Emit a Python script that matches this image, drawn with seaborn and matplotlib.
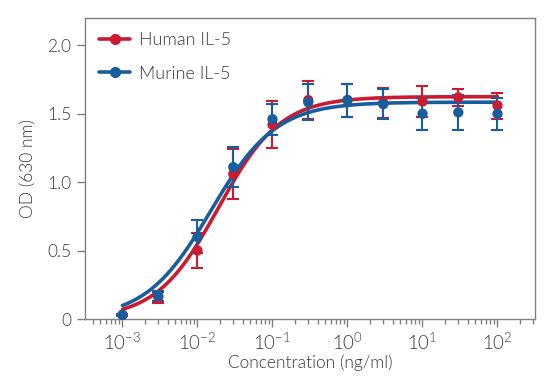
import numpy as np
import pandas as pd
import matplotlib
matplotlib.use('Agg')
import matplotlib.pyplot as plt
import matplotlib.ticker as ticker
from matplotlib.lines import Line2D
import seaborn as sns

# colours
RED = '#CC1A30'
BLUE = '#175E9F'
GREY = '#808080'
TEXT = '#3a3a3a'

# measured points (ng/ml vs OD 630 nm)
conc = [0.001, 0.003, 0.01, 0.03, 0.1, 0.3, 1, 3, 10, 30, 100]
human_od = [0.03, 0.16, 0.50, 1.06, 1.42, 1.60, 1.60, 1.58, 1.59, 1.62, 1.56]
human_err = [0.01, 0.04, 0.13, 0.18, 0.17, 0.14, 0.12, 0.11, 0.11, 0.06, 0.095]
murine_od = [0.03, 0.17, 0.60, 1.11, 1.46, 1.585, 1.60, 1.57, 1.50, 1.51, 1.50]
murine_err = [0.01, 0.035, 0.12, 0.145, 0.115, 0.13, 0.12, 0.11, 0.115, 0.13, 0.115]

# 4PL fit parameters: bottom, top, EC50, hill slope
human_fit = (0.0, 1.625, 0.019, 1.05)
murine_fit = (0.0, 1.585, 0.0151, 1.0)

y_ticks = [0, 0.5, 1.0, 1.5, 2.0]


def four_pl(x, params):
    bottom, top, ec50, hill = params
    return bottom + (top - bottom) / (1 + (ec50 / x) ** hill)


sns.set_style('ticks')
plt.rcParams['font.family'] = ['Lato', 'DejaVu Sans']
plt.rcParams['font.weight'] = 300
plt.rcParams['axes.labelweight'] = 300
plt.rcParams['mathtext.fontset'] = 'custom'
plt.rcParams['mathtext.rm'] = 'Lato:weight=300'
plt.rcParams['mathtext.default'] = 'regular'

fig = plt.figure(figsize=(5.5, 3.92), dpi=100)
ax = fig.add_axes([85 / 550, 1 - 319 / 392, 450 / 550, 301 / 392])

x_fit = np.logspace(-3, 2, 400)
fits = pd.DataFrame({
    'conc': np.concatenate([x_fit, x_fit]),
    'od': np.concatenate([four_pl(x_fit, human_fit), four_pl(x_fit, murine_fit)]),
    'series': ['Human IL-5'] * len(x_fit) + ['Murine IL-5'] * len(x_fit),
})

sns.lineplot(data=fits, x='conc', y='od', hue='series',
             palette={'Human IL-5': RED, 'Murine IL-5': BLUE},
             linewidth=2.6, legend=False, ax=ax, zorder=2)

for od, err, col in [(human_od, human_err, RED), (murine_od, murine_err, BLUE)]:
    ax.errorbar(conc, od, yerr=err, fmt='none', ecolor=col, elinewidth=1.5,
                capsize=4, capthick=1.5, zorder=3)
    sns.scatterplot(x=conc, y=od, color=col, s=55, edgecolor='none',
                    ax=ax, zorder=4, clip_on=False)

ax.set_xscale('log')
ax.set_xlim(10 ** -3.5, 10 ** 2.5)
ax.set_ylim(0, 2.2)
ax.xaxis.set_major_locator(ticker.LogLocator(base=10, numticks=12))
ax.xaxis.set_minor_locator(ticker.LogLocator(base=10, subs=np.arange(2, 10), numticks=12))
ax.xaxis.set_major_formatter(ticker.FuncFormatter(
    lambda v, p: '10$^{%d}$' % int(round(np.log10(v)))))
ax.xaxis.set_minor_formatter(ticker.NullFormatter())
ax.set_yticks(y_ticks)
ax.set_yticklabels(['0' if t == 0 else f'{t:.1f}' for t in y_ticks])

for s in ax.spines.values():
    s.set_color(GREY)
    s.set_linewidth(1.0)
ax.tick_params(axis='both', which='major', length=6, width=1.0, color=GREY,
               labelsize=12.5, labelcolor=TEXT, pad=4)
ax.tick_params(axis='x', which='major', labelsize=13.5, pad=3)
ax.tick_params(axis='x', which='minor', length=3.5, width=1.0, color=GREY)

ax.set_xlabel('Concentration (ng/ml)', fontsize=12.5, color=TEXT, labelpad=1)
ax.set_ylabel('OD (630 nm)', fontsize=12.5, color=TEXT, labelpad=8)

handles = [Line2D([0], [0], color=RED, lw=2.6, marker='o', ms=7),
           Line2D([0], [0], color=BLUE, lw=2.6, marker='o', ms=7)]
leg = ax.legend(handles, ['Human IL-5', 'Murine IL-5'], loc='upper left',
                bbox_to_anchor=(0.0, 1.0), frameon=False, fontsize=13,
                labelspacing=0.95, handlelength=1.7, handletextpad=0.5,
                borderaxespad=0.4)
for t in leg.get_texts():
    t.set_color(TEXT)

plt.savefig('out.png', dpi=100)
plt.close()
